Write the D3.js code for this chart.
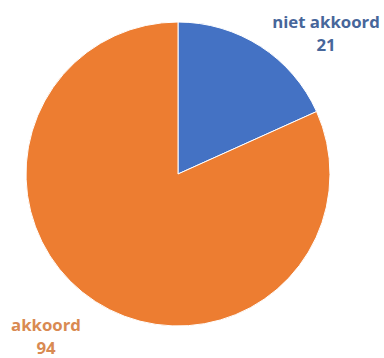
<!DOCTYPE html>
<html>
<head>
<meta charset="utf-8">
<script src="https://cdn.jsdelivr.net/npm/d3@7"></script>
<style>
  html, body { margin: 0; padding: 0; background: #ffffff; }
  svg { display: block; }
</style>
</head>
<body>
<svg id="chart" width="384" height="358"></svg>
<script>
// Answers to the question: agree / disagree
const categories = ["niet akkoord", "akkoord"];
const counts = [21, 94];
const sliceColors = ["#4472C4", "#ED7D31"];
const labelColors = ["#47669A", "#D98A52"];

const svg = d3.select("#chart");
const cx = 178, cy = 174, radius = 152;

const pie = d3.pie().sort(null).value(d => d.value);
const arcs = pie(categories.map((c, i) => ({ name: c, value: counts[i], i })));
const arc = d3.arc().innerRadius(0).outerRadius(radius);

const g = svg.append("g").attr("transform", `translate(${cx},${cy})`);

g.selectAll("path")
  .data(arcs)
  .join("path")
  .attr("d", arc)
  .attr("fill", d => sliceColors[d.data.i])
  .attr("stroke", "#ffffff")
  .attr("stroke-width", 1);

// Data labels placed outside the pie, name on top and count below
const labelPos = [
  { x: 326, y: 28 },
  { x: 46, y: 331 }
];

arcs.forEach(d => {
  const p = labelPos[d.data.i];
  const t = svg.append("text")
    .attr("x", p.x)
    .attr("y", p.y)
    .attr("text-anchor", "middle")
    .attr("fill", labelColors[d.data.i])
    .style("font-family", "'Open Sans', Lato, sans-serif")
    .style("font-weight", "bold")
    .style("font-size", "16.8px");
  t.append("tspan").attr("x", p.x).text(d.data.name);
  t.append("tspan").attr("x", p.x).attr("dy", 23).text(d.data.value);
});
</script>
</body>
</html>
